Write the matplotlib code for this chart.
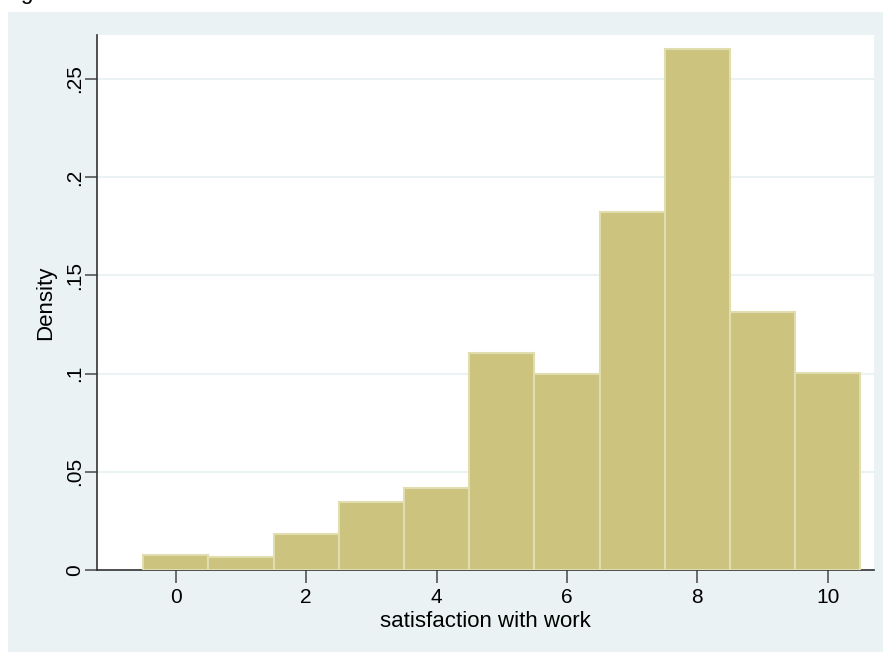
import matplotlib
matplotlib.use("Agg")
import matplotlib.pyplot as plt
from matplotlib.patches import Rectangle

# satisfaction score (bin centres) and density
scores = [0, 1, 2, 3, 4, 5, 6, 7, 8, 9, 10]
density = [0.0076, 0.0067, 0.0183, 0.0346, 0.0418, 0.1105, 0.0998, 0.1823, 0.2653, 0.1314, 0.1003]
yticks = [0, 0.05, 0.1, 0.15, 0.2, 0.25]
ytick_labels = ["0", ".05", ".1", ".15", ".2", ".25"]
xticks = [0, 2, 4, 6, 8, 10]

plt.rcParams['font.family'] = ['Liberation Sans', 'DejaVu Sans']

W, H = 883, 652
fig = plt.figure(figsize=(W / 100, H / 100), dpi=100)
fig.patch.set_facecolor("white")

# stata-style outer region (its own axes, behind the plot)
bg = fig.add_axes([8 / W, 0, 1 - 8 / W, 1 - 12 / H], zorder=-1)
bg.set_facecolor("#EAF2F3")
bg.axis("off")
bg.add_patch(Rectangle((0, 0), 1, 1, transform=bg.transAxes,
                       facecolor="#EAF2F3", edgecolor="none"))

# cut off text at the top
fig.text(26 / W, 1 + 1 / H, "g", fontsize=16, ha="center", va="baseline")

ax = fig.add_axes([97 / W, 1 - 570 / H, (874 - 97) / W, (570 - 35) / H])
ax.set_facecolor("white")

ax.bar(scores, density, width=1.0, color="#CBC37E", edgecolor="#E2DDAE",
       linewidth=1.5, zorder=3)

ax.set_xlim(-1.21, 10.71)
ax.set_ylim(0, 0.2724)

ax.set_yticks(yticks)
ax.set_yticklabels(ytick_labels, rotation=90, va="center")
ax.set_xticks(xticks)
ax.tick_params(axis="both", direction="out", length=9, width=1.2, color="#555555",
               labelsize=15)
ax.tick_params(axis="x", pad=4)
ax.tick_params(axis="y", pad=0.5)

ax.grid(axis="y", color="#EAF2F3", linewidth=1.5, zorder=0)
ax.set_axisbelow(True)

for s in ["top", "right"]:
    ax.spines[s].set_visible(False)
for s in ["left", "bottom"]:
    ax.spines[s].set_color("#333333")
    ax.spines[s].set_linewidth(1.2)

ax.set_xlabel("satisfaction with work", fontsize=16, labelpad=3)
ax.set_ylabel("Density", fontsize=16, labelpad=6)

fig.savefig("out.png", dpi=100)
